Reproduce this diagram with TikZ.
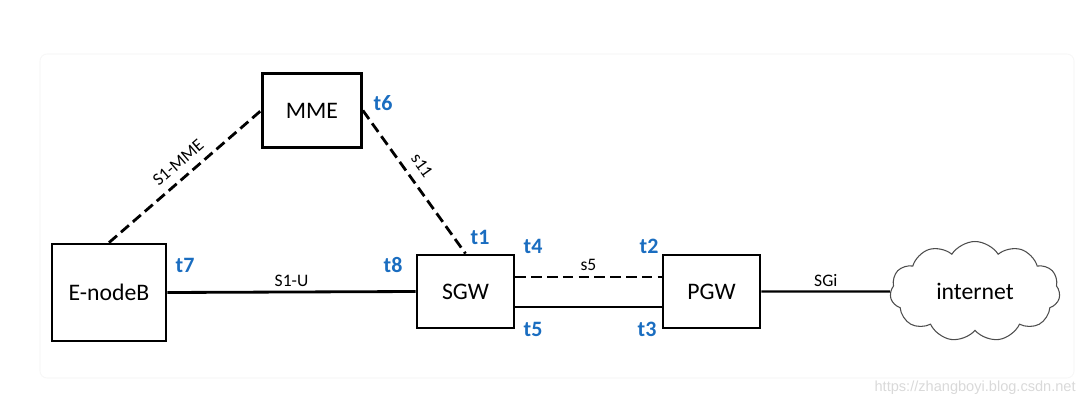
\documentclass[tikz,border=0pt]{standalone}
\usepackage{fontspec}
\setmainfont{Carlito}
\newfontfamily\wmfont{Liberation Sans}
\usetikzlibrary{shapes.symbols}
\definecolor{tblue}{HTML}{1A6DC0}
\begin{document}
\begin{tikzpicture}[x=0.02cm,y=-0.02cm,
  box/.style={draw,line width=1.6pt,inner sep=0pt,font=\fontsize{13.5}{16}\selectfont},
  link/.style={line width=1.6pt},
  dashlink/.style={line width=1.6pt,dash pattern=on 6pt off 3pt},
  lbl/.style={font=\fontsize{10}{12}\selectfont,inner sep=1pt},
  tlab/.style={font=\fontsize{12.5}{14}\selectfont\bfseries,text=tblue,inner sep=0pt}]
\useasboundingbox (0,0) rectangle (1084,405);
\draw[gray!6,line width=0.6pt,rounded corners=4pt] (40,54) rectangle (1074,378);
\node[box,minimum width=1.98cm,minimum height=1.48cm] (mme) at (312,110.5) {MME};
\node[box,minimum width=2.28cm,minimum height=1.94cm] (enb) at (109,292.5) {E-nodeB};
\node[box,minimum width=1.94cm,minimum height=1.46cm] (sgw) at (465.5,291.5) {SGW};
\node[box,minimum width=1.94cm,minimum height=1.46cm] (pgw) at (711.5,291.5) {PGW};
\node[cloud,cloud puffs=11,cloud puff arc=115,aspect=1.7,draw=gray!60!black,line width=0.6pt,
  minimum width=3.4cm,minimum height=2.0cm,inner sep=0pt,font=\fontsize{13.5}{16}\selectfont] (net) at (975,291.5) {internet};
\draw[link] (enb.east) -- node[lbl,above=1pt] {S1-U} (sgw.west);
\draw[dashlink] (enb.north) -- node[lbl,sloped,above=3.5pt,pos=0.52] {S1-MME} (mme.west);
\draw[dashlink] (mme.east) -- node[lbl,sloped,above=4pt,pos=0.45] {s11} (sgw.north);
\draw[dashlink] ([yshift=0.29cm]sgw.east) -- node[lbl,above=2pt] {s5} ([yshift=0.29cm]pgw.west);
\draw[link] ([yshift=-0.31cm]sgw.east) -- ([yshift=-0.31cm]pgw.west);
\draw[line width=1.4pt] (pgw.east) -- node[lbl,above=1pt] {SGi} (net.west);
\node[tlab] (t6) at (383,103) {t6};
\node[tlab] (t1) at (480,237) {t1};
\node[tlab] (t4) at (533,246) {t4};
\node[tlab] (t2) at (649,246) {t2};
\node[tlab] (t7) at (185,265) {t7};
\node[tlab] (t8) at (393,265) {t8};
\node[tlab] (t5) at (533,329) {t5};
\node[tlab] (t3) at (647,329) {t3};
\node[font=\wmfont\fontsize{8.3}{10}\selectfont,text=gray!30,anchor=east,inner sep=0pt] (wm) at (1076,388) {https://zhangboyi.blog.csdn.net};
\end{tikzpicture}
\end{document}
